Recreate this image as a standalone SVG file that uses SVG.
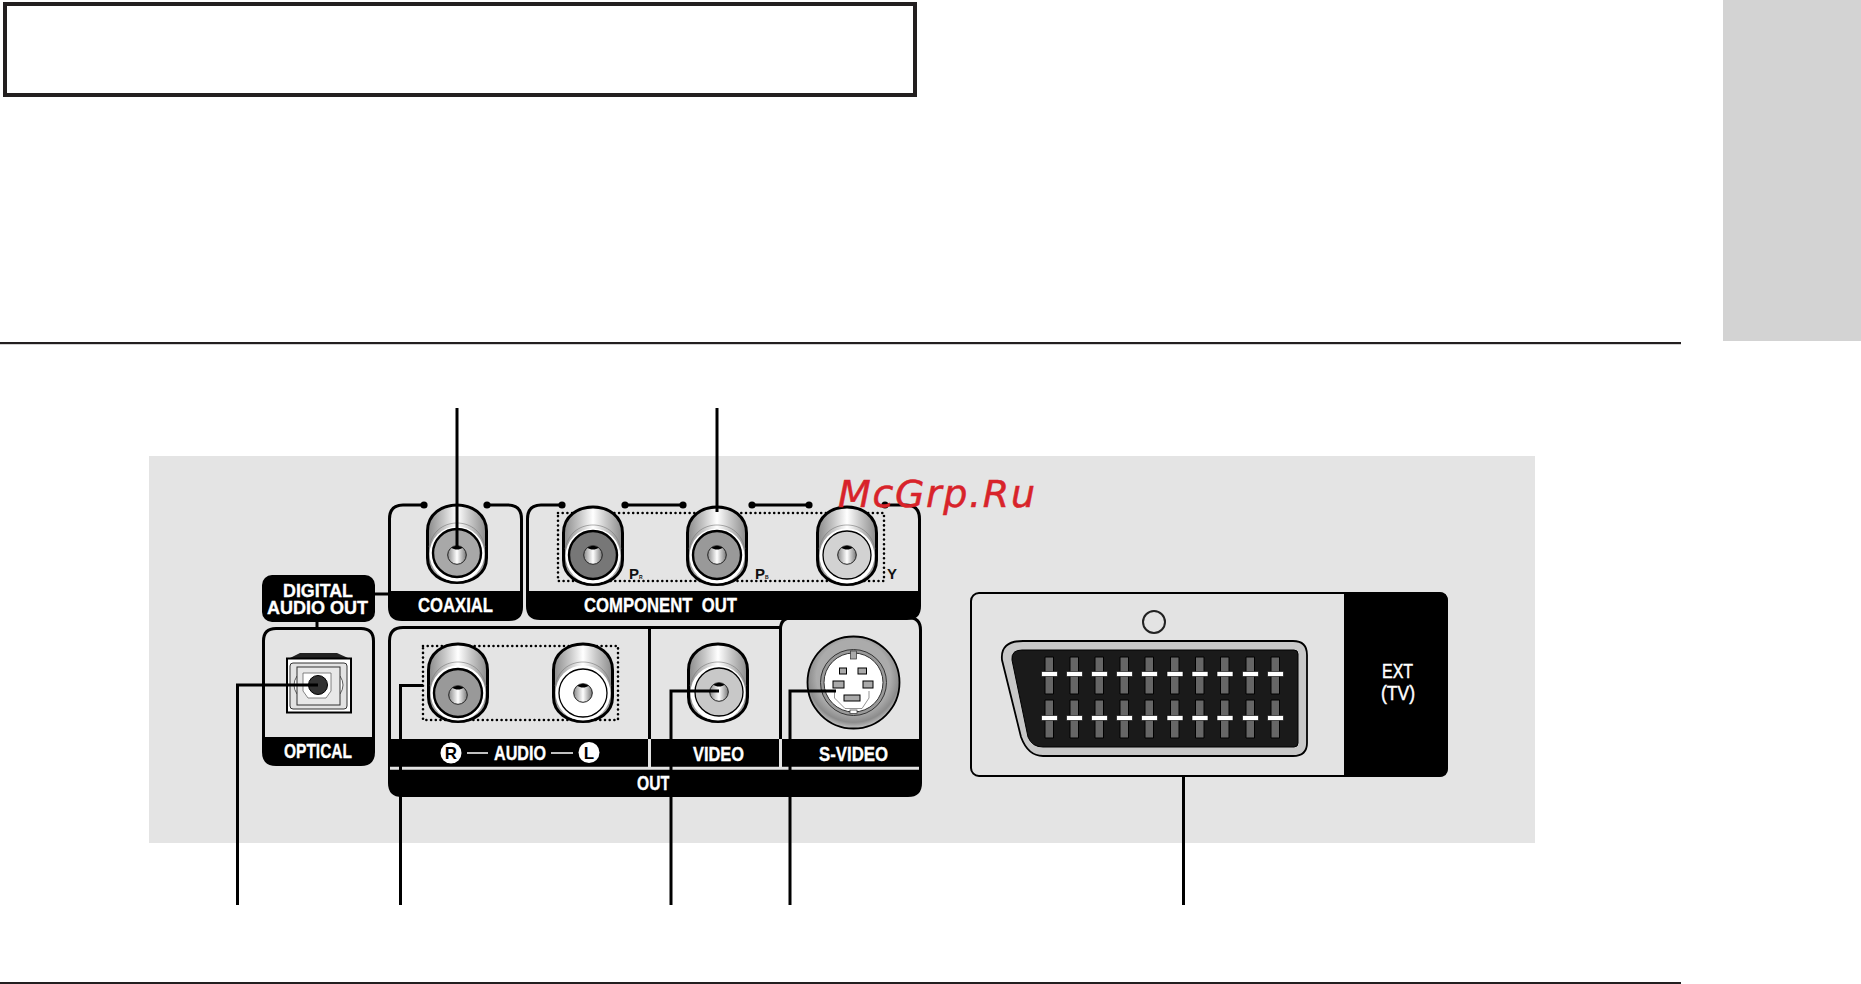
<svg xmlns="http://www.w3.org/2000/svg" width="1861" height="984" viewBox="0 0 1861 984">
<style>
.t{font-family:"Liberation Sans",Arial,sans-serif;font-weight:700;fill:#fff;stroke:#fff;stroke-width:.35;font-size:21px}
.s{font-size:18.500px}
.k{font-family:"Liberation Sans",Arial,sans-serif;font-weight:700;fill:#111;font-size:15px}
.c{font-family:"Liberation Sans",Arial,sans-serif;font-weight:700;font-size:17px;fill:#000;text-anchor:middle}
.ln{fill:none;stroke:#000;stroke-width:3}
.dot{fill:none;stroke:#000;stroke-width:2.600;stroke-linecap:round;stroke-dasharray:0 4.700}
.lead{fill:none;stroke:#000;stroke-width:3}
.pin{fill:#666;stroke:#000;stroke-width:1}
.pad{fill:#fff;stroke:#000;stroke-width:.6}
.sp{fill:#aaa;stroke:#000;stroke-width:1}
.fd{stroke:#000;stroke-width:2.400}
.fl{stroke:#000;stroke-width:1.300}
.dp{fill:#000}
</style>
<defs>
<linearGradient id="body" x1="0" x2="1" y1="0" y2="0"><stop offset="0" stop-color="#8a8a8a"/><stop offset=".28" stop-color="#c8c8c8"/><stop offset=".5" stop-color="#fff"/><stop offset=".72" stop-color="#c8c8c8"/><stop offset="1" stop-color="#8a8a8a"/></linearGradient>
<linearGradient id="holeG" x1="0" x2="1" y1="0" y2="0"><stop offset="0" stop-color="#8a8a8a"/><stop offset=".5" stop-color="#fff"/><stop offset="1" stop-color="#777"/></linearGradient>
<radialGradient id="sv" cx=".5" cy=".44" r=".56"><stop offset=".72" stop-color="#ababab"/><stop offset=".88" stop-color="#8c8c8c"/><stop offset="1" stop-color="#c4c4c4"/></radialGradient>
<g id="jack">
<path d="M-29.500-22C-29.500-39-15-48 0-48S29.500-39 29.500-22V5C29.500 21 15 29.500 0 29.500S-29.500 21-29.500 5Z" fill="url(#body)" stroke="#000" stroke-width="3"/>
<circle r="27.500" cy="1" fill="#fff"/>
<path d="M-28-6C-24-25-10-30 0-30S24-25 28-6" fill="none" stroke="#777" stroke-width=".6"/>
</g>
<g id="hole">
<circle r="9.300" fill="url(#holeG)" stroke="#222" stroke-width="1"/>
<path d="M-5.500-7.200C-3-9.500 3-9.500 5.500-7.200C3-4.800-3-4.800-5.500-7.200Z" fill="#000"/>
</g>
</defs>
<rect width="1861" height="984" fill="#fff"/>
<rect x="1723" y="0" width="138" height="341" fill="#d3d3d3"/>
<rect x="5" y="4" width="910" height="91" fill="#fff" stroke="#231f20" stroke-width="4"/>
<rect x="0" y="342" width="1681" height="2.200" fill="#231f20"/>
<rect x="0" y="982" width="1681" height="2" fill="#231f20"/>
<rect x="149" y="456" width="1386" height="387" fill="#e4e4e4"/>

<g id="digital-audio-out">
<rect x="262" y="575" width="113" height="47" rx="10" class="dp"/>
<path d="M375 594H390M317 622V628" class="ln"/>
<text class="t s" x="283" y="597" textLength="70" lengthAdjust="spacingAndGlyphs">DIGITAL</text>
<text class="t s" x="267" y="613.500" textLength="101" lengthAdjust="spacingAndGlyphs">AUDIO OUT</text>
</g>

<g id="coaxial">
<path class="ln" d="M424 505H403Q389.500 505 389.500 519V592M487 505H508Q521.500 505 521.500 519V592"/>
<circle cx="424" cy="505" r="3.600"/><circle cx="487" cy="505" r="3.600"/>
<path class="dp" d="M388 591H523V607Q523 621 509 621H402Q388 621 388 607Z"/>
<use href="#jack" x="457" y="553"/>
<circle class="fd" cx="457" cy="553" r="24" fill="#a8a8a8"/>
<use href="#hole" x="457" y="555"/>
<text class="t" x="418" y="612" textLength="75" lengthAdjust="spacingAndGlyphs">COAXIAL</text>
</g>

<g id="component-out">
<path class="ln" d="M562 505H541Q527.500 505 527.500 519V592M885 505H906Q919.500 505 919.500 519V592M625 505H683M752 505H809"/>
<circle cx="562" cy="505" r="3.600"/><circle cx="625" cy="505" r="3.600"/><circle cx="683" cy="505" r="3.600"/><circle cx="752" cy="505" r="3.600"/><circle cx="809" cy="505" r="3.600"/><circle cx="885" cy="505" r="3.600"/>
<path class="dp" d="M526 591H921V606Q921 620 907 620H540Q526 620 526 606Z"/>
<rect class="dot" x="558" y="513" width="326" height="68"/>
<use href="#jack" x="593" y="555"/>
<circle class="fd" cx="593" cy="555" r="24" fill="#777"/>
<use href="#hole" x="593" y="555"/>
<use href="#jack" x="717" y="555"/>
<circle class="fd" cx="717" cy="555" r="24" fill="#999"/>
<use href="#hole" x="717" y="555"/>
<use href="#jack" x="847" y="555"/>
<circle class="fl" cx="847" cy="555" r="24" fill="#d2d2d2"/>
<use href="#hole" x="847" y="555"/>
<text class="k" x="629" y="579">P<tspan font-size="5">R</tspan></text>
<text class="k" x="755" y="579">P<tspan font-size="5">B</tspan></text>
<text class="k" x="887" y="579">Y</text>
<text class="t" x="584" y="612" textLength="153" lengthAdjust="spacingAndGlyphs" xml:space="preserve">COMPONENT  OUT</text>
</g>

<g id="optical">
<path class="ln" d="M263.500 738V641Q263.500 628.500 276 628.500H361Q373.500 628.500 373.500 641V738"/>
<path class="dp" d="M262 737H375V752Q375 766 361 766H276Q262 766 262 752Z"/>
<path d="M290 658L300 653H337L348 658Z" fill="#222"/>
<rect x="287" y="658.500" width="64" height="54" fill="#fff" stroke="#000" stroke-width="2"/>
<rect x="290" y="663" width="57" height="46" rx="3" fill="#e3e3e3" stroke="#333" stroke-width="1"/>
<path d="M297 676Q291 685 297 694M340 676Q346 685 340 694" fill="#fff" stroke="#333" stroke-width=".8"/>
<rect x="297" y="667" width="43" height="38" fill="#e8e8e8" stroke="#333" stroke-width="1"/>
<path d="M303 673H331V691L326 698H308L303 691Z" fill="#fff" stroke="#666" stroke-width=".8"/>
<circle cx="318" cy="685" r="9.500" fill="#333" stroke="#000" stroke-width="1"/>
<text class="t" x="284" y="758" textLength="68" lengthAdjust="spacingAndGlyphs">OPTICAL</text>
</g>

<g id="out-panel">
<path class="ln" d="M389.500 740V641Q389.500 627.500 403 627.500H781"/>
<path class="ln" d="M649.500 627V740"/>
<path class="dp" d="M388 739H922V783Q922 797 908 797H402Q388 797 388 783Z"/>
<path d="M390 768.300H919" stroke="#e3e3e3" stroke-width="3" fill="none"/>
<path d="M649.500 739V767M780.500 739V767" stroke="#e3e3e3" stroke-width="3" fill="none"/>
<text class="t" x="637" y="790" textLength="33" lengthAdjust="spacingAndGlyphs">OUT</text>
</g>

<g id="audio">
<rect class="dot" x="423" y="646" width="195" height="74"/>
<use href="#jack" x="458" y="692"/>
<circle class="fd" cx="458" cy="693" r="24" fill="#999"/>
<use href="#hole" x="458" y="695"/>
<use href="#jack" x="583" y="692"/>
<circle class="fl" cx="583" cy="693" r="24" fill="#fff"/>
<use href="#hole" x="583" y="693"/>
<circle cx="451" cy="753" r="10.500" fill="#fff"/>
<text class="c" x="451" y="759">R</text>
<circle cx="589" cy="752.500" r="10.500" fill="#fff"/>
<text class="c" x="589" y="758.500">L</text>
<path d="M467 753H488M551 753H573" stroke="#fff" stroke-width="1.500"/>
<text class="t" x="494" y="760" textLength="52" lengthAdjust="spacingAndGlyphs">AUDIO</text>
</g>

<g id="video">
<use href="#jack" x="718" y="692"/>
<circle class="fl" cx="719" cy="692" r="24" fill="#c8c8c8"/>
<use href="#hole" x="719" y="692"/>
<text class="t" x="693" y="761" textLength="51" lengthAdjust="spacingAndGlyphs">VIDEO</text>
</g>

<g id="s-video">
<path class="ln" d="M780.500 739V629Q780.500 617.500 793 617.500H908Q920.500 617.500 920.500 630V740"/>
<circle cx="853.500" cy="682.500" r="46" fill="url(#sv)" stroke="#000" stroke-width="1.800"/>
<circle cx="853.500" cy="682.500" r="33" fill="#999" stroke="#333" stroke-width="1"/>
<circle cx="853.500" cy="682.500" r="29.500" fill="#fff" stroke="#333" stroke-width="1"/>
<rect x="850.500" y="651" width="6" height="8" fill="#aaa" stroke="#333" stroke-width=".7"/>
<rect x="850" y="710" width="7" height="3.500" fill="#fff" stroke="#333" stroke-width=".7"/>
<path d="M834.500 691V698L845 708.500H862L869 698V691" fill="none" stroke="#666" stroke-width=".7"/>
<rect class="sp" x="839.500" y="668" width="7" height="6"/>
<rect class="sp" x="858" y="668" width="8.500" height="6"/>
<rect class="sp" x="833" y="681" width="11" height="7"/>
<rect class="sp" x="863" y="681" width="10" height="7"/>
<rect class="sp" x="844" y="695" width="16" height="6"/>
<text class="t" x="819" y="761" textLength="69" lengthAdjust="spacingAndGlyphs">S-VIDEO</text>
</g>

<g id="ext-tv">
<rect x="971" y="593" width="476" height="183" rx="8" fill="#e3e3e3" stroke="#000" stroke-width="2"/>
<path class="dp" d="M1344 592H1439Q1448 592 1448 601V768Q1448 777 1439 777H1344Z"/>
<circle cx="1154" cy="622" r="11" fill="none" stroke="#222" stroke-width="2"/>
<path d="M1023 641H1293Q1307 641 1307 655V743Q1307 756 1293 756H1043Q1028 756 1021 737L1002 660Q1000 641 1023 641Z" fill="#c8c8c8" stroke="#000" stroke-width="1.800"/>
<path d="M1022 650H1294Q1298 650 1298 654V743Q1298 747 1294 747H1043Q1032 747 1028 737L1012 660Q1011 650 1022 650Z" fill="#1a1a1a" stroke="#000" stroke-width="1"/>
<path class="pin" d="M1045 657h8.500v37h-8.500zM1045 700h8.500v38h-8.500zM1070 657h8.500v37h-8.500zM1070 700h8.500v38h-8.500zM1095 657h8.500v37h-8.500zM1095 700h8.500v38h-8.500zM1120 657h8.500v37h-8.500zM1120 700h8.500v38h-8.500zM1145 657h8.500v37h-8.500zM1145 700h8.500v38h-8.500zM1170.500 657h8.500v37h-8.500zM1170.500 700h8.500v38h-8.500zM1195.500 657h8.500v37h-8.500zM1195.500 700h8.500v38h-8.500zM1220.500 657h8.500v37h-8.500zM1220.500 700h8.500v38h-8.500zM1246 657h8.500v37h-8.500zM1246 700h8.500v38h-8.500zM1271 657h8.500v37h-8.500zM1271 700h8.500v38h-8.500z"/>
<path class="pad" d="M1041.500 671.500h16v5h-16zM1041.500 715.500h16v5h-16zM1066.500 671.500h16v5h-16zM1066.500 715.500h16v5h-16zM1091.500 671.500h16v5h-16zM1091.500 715.500h16v5h-16zM1116.500 671.500h16v5h-16zM1116.500 715.500h16v5h-16zM1141.500 671.500h16v5h-16zM1141.500 715.500h16v5h-16zM1167 671.500h16v5h-16zM1167 715.500h16v5h-16zM1192 671.500h16v5h-16zM1192 715.500h16v5h-16zM1217 671.500h16v5h-16zM1217 715.500h16v5h-16zM1242.500 671.500h16v5h-16zM1242.500 715.500h16v5h-16zM1267.500 671.500h16v5h-16zM1267.500 715.500h16v5h-16z"/>
<text x="1382" y="678" font-family="Liberation Sans,Arial,sans-serif" font-size="21" fill="#fff" stroke="#fff" stroke-width=".5" textLength="31" lengthAdjust="spacingAndGlyphs">EXT</text>
<text x="1381" y="700" font-family="Liberation Sans,Arial,sans-serif" font-size="21" fill="#fff" stroke="#fff" stroke-width=".5" textLength="34" lengthAdjust="spacingAndGlyphs">(TV)</text>
</g>

<g id="connectors">
<path class="lead" d="M457 408V547"/>
<path class="lead" d="M717 408V512"/>
<path class="lead" d="M237.500 905V685H318"/>
<path class="lead" d="M400.500 905V685.500H423"/>
<path class="lead" d="M671 905V691H719"/>
<path class="lead" d="M790 905V691H836"/>
<path class="lead" d="M1183.500 777V905"/>
</g>

<text id="watermark" x="838" y="507" font-family="DejaVu Sans,sans-serif" font-style="italic" font-size="38" fill="#d8232a" stroke="#d8232a" stroke-width=".5" textLength="197">McGrp.Ru</text>
</svg>
